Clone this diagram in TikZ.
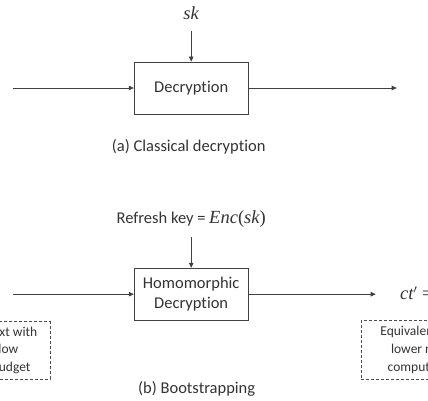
\documentclass[tikz,border=0pt]{standalone}
\usepackage{fontspec}
\setmainfont{Carlito}[Ligatures=NoCommon]
\newfontfamily\mathser{Liberation Serif}
\newcommand{\mvar}[1]{{\mathser\itshape #1}}
\newcommand{\mup}[1]{{\mathser #1}}
\usetikzlibrary{arrows.meta}
\begin{document}
\begin{tikzpicture}[x=1pt,y=-1pt,
  blk/.style={draw=black!75, line width=0.8pt, minimum width=114pt, minimum height=52pt,
    inner sep=0pt, font=\fontsize{16.5}{20}\selectfont, text=black!80, align=center},
  arr/.style={-{Triangle[length=5pt,width=4.5pt]}, draw=black!75, line width=0.6pt},
  lbl/.style={font=\fontsize{16.5}{20}\selectfont, text=black!80},
  mth/.style={font=\fontsize{18.5}{20}\selectfont},
  note/.style={draw=black!70, dash pattern=on 3pt off 2pt, line width=0.6pt,
    font=\fontsize{13.5}{17.7}\selectfont, align=center, text=black!80, inner sep=0pt}]
\useasboundingbox (0,0) rectangle (428,400);
\clip (0,0) rectangle (428,400);
\fill[white] (0,0) rectangle (428,400);
% (a)
\node[blk] (dec) at (191.2,88) {Decryption};
\node[lbl] (sk) at (191.2,13.5) {{\fontsize{18.5}{20}\selectfont\mvar{sk}}};
\coordinate (ina) at (12.7,88);
\coordinate (outa) at (396.7,88);
\draw[arr, shorten <=7pt] (sk) -- (dec);
\draw[arr] (ina) -- (dec);
\draw[arr] (dec) -- (outa);
\node[lbl] (capa) at (188.7,146.7) {(a) Classical decryption};
% (b)
\node[blk] (hdec) at (191.2,294.2) {Homomorphic\\Decryption};
\node[lbl] (rk) at (191.2,219.5) {Refresh key = {\fontsize{18.5}{20}\selectfont\mvar{Enc}\mup{(}\mvar{sk}\mup{)}}};
\coordinate (inb) at (13,294.2);
\coordinate (outb) at (375.7,294.2);
\draw[arr, shorten <=6pt] (rk) -- (hdec);
\draw[arr] (inb) -- (hdec);
\draw[arr] (hdec) -- (outb);
\node[lbl, anchor=west] (ct) at (396.7,295) {{\fontsize{18.5}{20}\selectfont\mvar{ct}$'$\mup{ = }\mvar{Enc}\mup{(}\mvar{m}\mup{)}}};
\node[note, minimum width=110pt, minimum height=57.3pt] (nl) at (-5,350.3)
  {Ciphertext with\\very low\\noise budget};
\node[note, minimum width=123.6pt, minimum height=58.6pt] (nr) at (422.8,350)
  {Equivalent with\\lower noise\\computation};
\node[lbl] (capb) at (196.7,389) {(b) Bootstrapping};
\end{tikzpicture}
\end{document}
